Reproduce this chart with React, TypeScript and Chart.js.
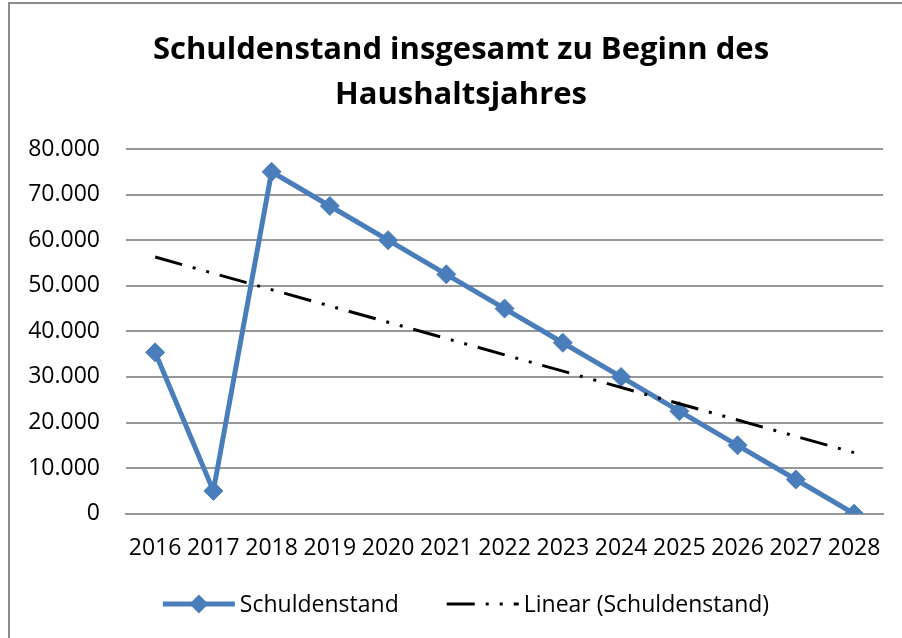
import React, { useEffect, useRef } from "react";
import { Chart, registerables } from "chart.js";

Chart.register(...registerables);

const categories = ["2016", "2017", "2018", "2019", "2020", "2021", "2022", "2023", "2024", "2025", "2026", "2027", "2028"];
const schuldenstand = [35400, 5000, 75000, 67500, 60000, 52500, 45000, 37500, 30000, 22500, 15000, 7500, 0];
const trendStart = { x: "2016", y: 56300 };
const trendEnd = { x: "2028", y: 13400 };
const titleLines = ["Schuldenstand insgesamt zu Beginn des", "Haushaltsjahres"];
const seriesLabel = "Schuldenstand";
const trendLabel = "Linear (Schuldenstand)";

const BLUE = "#4A7EBB";
const GRID = "#989898";
const FONT = '"Open Sans", "DejaVu Sans", sans-serif';
const TREND_DASH = [28, 11, 3, 11, 3, 11];

function formatDE(v: number): string {
  const s = Math.round(v).toString();
  return s.replace(/\B(?=(\d{3})+(?!\d))/g, ".");
}

const titlePlugin = {
  id: "excelTitle",
  afterDraw(chart: any) {
    const ctx = chart.ctx as CanvasRenderingContext2D;
    ctx.save();
    ctx.font = `bold 31px ${FONT}`;
    ctx.fillStyle = "#000";
    ctx.textAlign = "center";
    ctx.textBaseline = "middle";
    const cx = 461;
    const y0 = 50;
    const lh = 45;
    titleLines.forEach((line, i) => ctx.fillText(line, cx, y0 + i * lh));
    ctx.restore();
  },
};

const legendPlugin = {
  id: "excelLegend",
  afterDraw(chart: any) {
    const ctx = chart.ctx as CanvasRenderingContext2D;
    const cy = 604;
    const centerX = 466;
    const sym = 72;
    const gapT = 5;
    const gapI = 48;
    ctx.save();
    ctx.font = `23px ${FONT}`;
    const items = chart.data.datasets.map((ds: any) => ({ ds, w: ctx.measureText(ds.label).width }));
    const total = items.reduce((s: number, it: any) => s + sym + gapT + it.w, 0) + gapI * (items.length - 1);
    let x = centerX - total / 2;
    for (const it of items) {
      const ds = it.ds;
      ctx.save();
      ctx.strokeStyle = ds.borderColor;
      ctx.lineWidth = ds.borderWidth;
      ctx.setLineDash(ds.borderDash || []);
      ctx.beginPath();
      ctx.moveTo(x, cy);
      ctx.lineTo(x + sym, cy);
      ctx.stroke();
      ctx.setLineDash([]);
      if (ds.pointRadius > 0) {
        const r = ds.pointRadius;
        const px = x + sym / 2;
        ctx.fillStyle = ds.pointBackgroundColor;
        ctx.beginPath();
        ctx.moveTo(px - r, cy);
        ctx.lineTo(px, cy - r);
        ctx.lineTo(px + r, cy);
        ctx.lineTo(px, cy + r);
        ctx.closePath();
        ctx.fill();
      }
      ctx.restore();
      ctx.fillStyle = "#000";
      ctx.textBaseline = "middle";
      ctx.textAlign = "left";
      ctx.fillText(ds.label, x + sym + gapT, cy + 1);
      x += sym + gapT + it.w + gapI;
    }
    ctx.restore();
  },
};

export default function App() {
  const canvasRef = useRef<HTMLCanvasElement | null>(null);

  useEffect(() => {
    if (!canvasRef.current) return;
    const chart = new Chart(canvasRef.current, {
      type: "line",
      data: {
        labels: categories,
        datasets: [
          {
            label: seriesLabel,
            data: schuldenstand,
            borderColor: BLUE,
            backgroundColor: BLUE,
            borderWidth: 5,
            pointStyle: "rectRot",
            pointRadius: 9.5,
            pointHoverRadius: 9.5,
            pointBackgroundColor: BLUE,
            pointBorderColor: BLUE,
            pointBorderWidth: 1,
            tension: 0,
            fill: false,
            order: 0,
          } as any,
          {
            label: trendLabel,
            data: [trendStart, trendEnd],
            borderColor: "#000000",
            backgroundColor: "#000000",
            borderWidth: 3,
            borderDash: TREND_DASH,
            pointRadius: 0,
            tension: 0,
            fill: false,
            order: -1,
          } as any,
        ],
      },
      options: {
        animation: false,
        responsive: false,
        maintainAspectRatio: false,
        layout: { padding: { left: 0, right: 17, top: 149, bottom: 74.3 } },
        plugins: {
          legend: { display: false },
          tooltip: { enabled: false },
          title: { display: false },
        },
        scales: {
          x: {
            type: "category",
            offset: true,
            grid: { display: false, drawTicks: false },
            border: { display: true, color: GRID, width: 2 },
            ticks: {
              color: "#000",
              font: { family: FONT, size: 23 },
              padding: 21,
              autoSkip: false,
              maxRotation: 0,
              minRotation: 0,
            },
            afterFit: (scale: any) => {
              scale.height = 50;
            },
          },
          y: {
            min: 0,
            max: 80000,
            grid: { color: GRID, lineWidth: 2, drawTicks: false },
            border: { display: false },
            ticks: {
              stepSize: 10000,
              color: "#000",
              font: { family: FONT, size: 23 },
              padding: 26,
              callback: (v: any) => formatDE(Number(v)),
            },
            afterFit: (scale: any) => {
              scale.width = 126;
            },
          },
        },
      },
      plugins: [titlePlugin, legendPlugin],
    });
    return () => chart.destroy();
  }, []);

  return (
    <div style={{ position: "fixed", left: 0, top: 0, width: 902, height: 638, background: "#fff", overflow: "hidden" }}>
      <div
        style={{
          position: "absolute",
          left: 8,
          top: 2,
          width: 1000,
          height: 1000,
          border: "2px solid #8c8c8c",
          boxSizing: "border-box",
        }}
      />
      <canvas ref={canvasRef} width={902} height={638} style={{ position: "absolute", left: 0, top: 0 }} />
    </div>
  );
}
